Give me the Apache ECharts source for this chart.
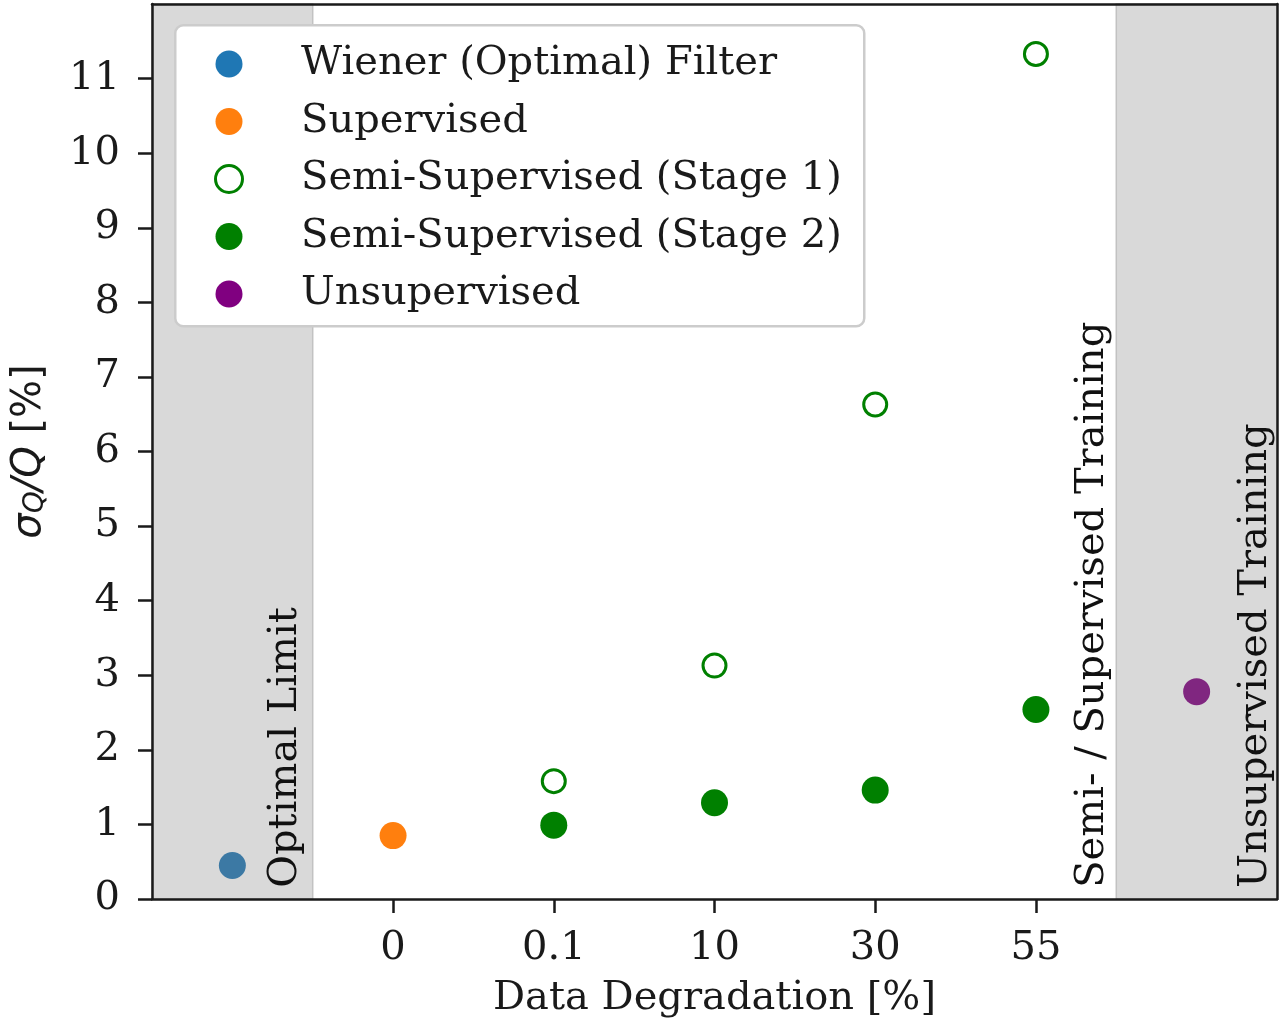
<!DOCTYPE html>
<html>
<head>
<meta charset="utf-8">
<script src="https://cdn.jsdelivr.net/npm/echarts@6/dist/echarts.min.js"></script>
<style>
html,body{margin:0;padding:0;background:#fff;}
#chart{width:1281px;height:1022px;}
</style>
</head>
<body>
<div id="chart"></div>
<script>
// ---- data ----
const tickPositions = [0, 1, 2, 3, 4];
const tickLabels = ['0', '0.1', '10', '30', '55'];
const yTicks = [0,1,2,3,4,5,6,7,8,9,10,11];

const wienerX = [-1];
const wienerY = [0.45];
const supervisedX = [0];
const supervisedY = [0.85];
const stage1X = [1, 2, 3, 4];
const stage1Y = [1.58, 3.13, 6.63, 11.33];
const stage2X = [1, 2, 3, 4];
const stage2Y = [0.99, 1.29, 1.46, 2.54];
const unsupX = [5];
const unsupY = [2.78];

const shadedRegions = [[-1.5, -0.5], [4.5, 5.5]];
const annotationTexts = ['Optimal Limit', 'Semi- / Supervised Training', 'Unsupervised Training'];
const annotationX = [-0.67, 4.355, 5.365];
const annotationY = [0.15, 0.15, 0.15];

const names = ['Wiener (Optimal) Filter', 'Supervised', 'Semi-Supervised (Stage 1)', 'Semi-Supervised (Stage 2)', 'Unsupervised'];

function pairs(xs, ys) { return xs.map((x, i) => [x, ys[i]]); }

const SERIF = 'DejaVu Serif';
const AX = '#1a1a1a';

const chart = echarts.init(document.getElementById('chart'), null, {renderer: 'canvas'});

const option = {
  animation: false,
  backgroundColor: '#ffffff',
  grid: {left: 152, right: 4, top: 4, bottom: 123, containLabel: false, outerBoundsMode: 'none'},
  xAxis: [{
    type: 'value', min: -1.5, max: 5.5, z: 10,
    axisLine: {show: true, onZero: false, lineStyle: {color: AX, width: 2.5}},
    axisTick: {show: true, customValues: tickPositions, length: 14, lineStyle: {color: AX, width: 2.5}},
    axisLabel: {show: true, customValues: tickPositions, margin: 30,
      formatter: v => tickLabels[tickPositions.indexOf(v)] ?? '',
      fontFamily: SERIF, fontSize: 40, color: AX},
    splitLine: {show: false},
    name: 'Data Degradation [%]', nameLocation: 'middle', nameGap: 80,
    nameTextStyle: {fontFamily: SERIF, fontSize: 40, color: AX, lineHeight: 40}
  }, {
    type: 'value', position: 'top', min: -1.5, max: 5.5, z: 10,
    axisLine: {show: true, onZero: false, lineStyle: {color: AX, width: 2.5}},
    axisTick: {show: false}, axisLabel: {show: false}, splitLine: {show: false}
  }],
  yAxis: [{
    type: 'value', min: 0, max: 12, z: 10,
    axisLine: {show: true, onZero: false, lineStyle: {color: AX, width: 2.5}},
    axisTick: {show: true, customValues: yTicks, length: 14, lineStyle: {color: AX, width: 2.5}},
    axisLabel: {show: true, customValues: yTicks, margin: 32, fontFamily: SERIF, fontSize: 40, color: AX},
    splitLine: {show: false},
    name: '{s|σ}{q|Q}{t|/Q}{n| [%]}', nameLocation: 'middle', nameGap: 102, nameRotate: 90,
    nameTextStyle: {
      fontFamily: 'DejaVu Sans', fontSize: 40, color: AX, lineHeight: 40,
      rich: {
        s: {fontFamily: 'DejaVu Sans', fontStyle: 'italic', fontSize: 40, lineHeight: 40, color: AX},
        q: {fontFamily: 'DejaVu Sans', fontStyle: 'italic', fontSize: 28, lineHeight: 20, verticalAlign: 'bottom', color: AX},
        t: {fontFamily: 'DejaVu Sans', fontStyle: 'italic', fontSize: 40, lineHeight: 40, color: AX},
        n: {fontFamily: 'DejaVu Sans', fontSize: 40, lineHeight: 40, color: AX}
      }
    }
  }, {
    type: 'value', position: 'right', min: 0, max: 12, z: 10,
    axisLine: {show: true, onZero: false, lineStyle: {color: AX, width: 2.5}},
    axisTick: {show: false}, axisLabel: {show: false}, splitLine: {show: false}
  }],
  legend: {
    left: 214, top: 44, orient: 'vertical', padding: 0, itemGap: 17.5,
    itemWidth: 134, itemHeight: 27, selectedMode: false, z: 20,
    textStyle: {fontFamily: SERIF, fontSize: 40, color: AX, lineHeight: 40},
    data: [
      {name: names[0], icon: 'circle', itemStyle: {color: '#1f77b4', borderWidth: 0}},
      {name: names[1], icon: 'circle', itemStyle: {color: '#ff7f0e', borderWidth: 0}},
      {name: names[2], icon: 'circle', itemStyle: {color: '#ffffff', borderColor: '#008000', borderWidth: 3}},
      {name: names[3], icon: 'circle', itemStyle: {color: '#008000', borderWidth: 0}},
      {name: names[4], icon: 'circle', itemStyle: {color: '#800080', borderWidth: 0}}
    ]
  },
  graphic: [{
    type: 'rect', z: 15, left: 174, top: 24,
    shape: {width: 689, height: 301, r: 8},
    style: {fill: '#ffffff', stroke: '#cccccc', lineWidth: 2.5}
  }],
  series: [
    {
      name: names[0], type: 'scatter', symbol: 'circle', symbolSize: 27,
      itemStyle: {color: '#3c79a4', opacity: 1},
      data: pairs(wienerX, wienerY),
      markArea: {
        silent: true,
        itemStyle: {color: '#d9d9d9', borderColor: '#c2c2c2', borderWidth: 1.5},
        data: shadedRegions.map(r => [{xAxis: r[0]}, {xAxis: r[1]}])
      }
    },
    {
      name: names[1], type: 'scatter', symbol: 'circle', symbolSize: 27,
      itemStyle: {color: '#ff7f0e', opacity: 1},
      data: pairs(supervisedX, supervisedY)
    },
    {
      name: names[2], type: 'scatter', symbol: 'circle', symbolSize: 23,
      itemStyle: {color: '#ffffff', borderColor: '#008000', borderWidth: 3, opacity: 1},
      data: pairs(stage1X, stage1Y)
    },
    {
      name: names[3], type: 'scatter', symbol: 'circle', symbolSize: 27,
      itemStyle: {color: '#008000', opacity: 1},
      data: pairs(stage2X, stage2Y)
    },
    {
      name: names[4], type: 'scatter', symbol: 'circle', symbolSize: 27,
      itemStyle: {color: '#802680', opacity: 1},
      data: pairs(unsupX, unsupY)
    },
    {
      name: 'annotations', type: 'scatter', symbolSize: 1, silent: true, z: 5,
      itemStyle: {color: 'rgba(0,0,0,0)'},
      data: annotationTexts.map((t, i) => ({name: t, value: [annotationX[i], annotationY[i]]})),
      label: {
        show: true, position: 'inside', formatter: '{b}', rotate: 90,
        align: 'left', verticalAlign: 'middle', opacity: 1,
        textBorderWidth: 0, textBorderColor: 'transparent',
        fontFamily: SERIF, fontSize: 40, color: '#111111', lineHeight: 40
      },
      labelLayout: {hideOverlap: false}
    }
  ]
};
chart.setOption(option);
</script>
</body>
</html>
